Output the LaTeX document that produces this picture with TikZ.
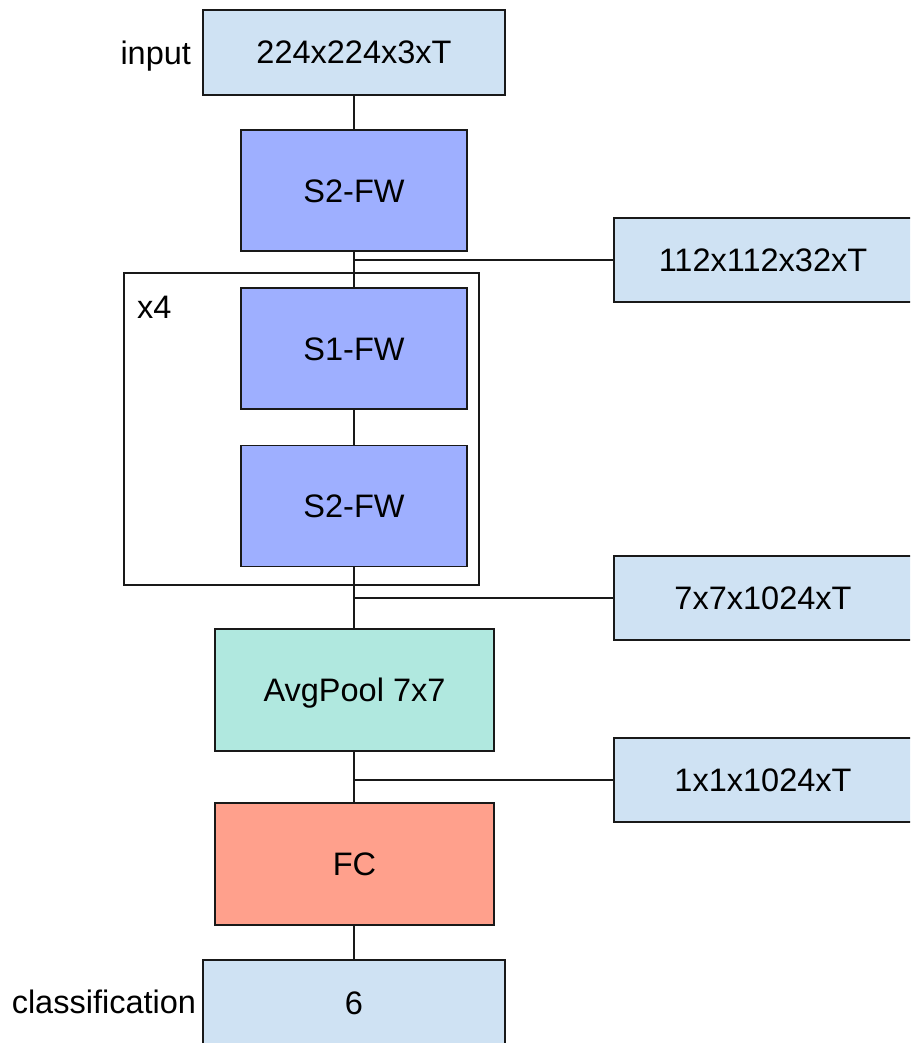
\documentclass[tikz,border=0pt]{standalone}
\usepackage{fontspec}
\setmainfont{Liberation Sans}
\definecolor{lblue}{HTML}{CFE2F3}
\definecolor{fwblue}{HTML}{9EAFFF}
\definecolor{pool}{HTML}{B0E8DF}
\definecolor{fc}{HTML}{FFA08C}
\begin{document}
\begin{tikzpicture}[x=1pt,y=-1pt,
  every node/.style={font=\fontsize{32.5}{38}\selectfont, inner sep=0pt, outer sep=0pt},
  box/.style={draw=black!90, line width=1.4pt, minimum width=#1, text height=23pt, text depth=0pt, yshift=-1.5pt},
  io/.style={box=302pt, fill=lblue, minimum height=85pt},
  sidebox/.style={box=298pt, fill=lblue, minimum height=84pt},
  fw/.style={box=226pt, fill=fwblue, minimum height=121pt},
  wide/.style={box=279pt, minimum height=122pt},
  conn/.style={draw=black!90, line width=1.3pt}]
\useasboundingbox (0,0) rectangle (910,1043);
\clip (0,0) rectangle (910,1043);
% frame
\node[draw=black!90, line width=1.3pt, minimum width=355pt, minimum height=312pt] (frame) at (301.5,429) {};
\node[anchor=base west] (rep) at (137,318) {x4};
% main column
\node[io, yshift=1.5pt] (in) at (354,52.5) {224x224x3xT};
\node[anchor=base east] (inlab) at (191,65) {input};
\node[fw, yshift=1.5pt] (s2a) at (354,190.5) {S2-FW};
\node[fw, yshift=1.5pt] (s1) at (354,348.5) {S1-FW};
\node[fw, yshift=1.5pt] (s2b) at (354,506) {S2-FW};
\node[wide, fill=pool, yshift=1.5pt] (avg) at (354.5,690) {AvgPool 7x7};
\node[wide, fill=fc, yshift=1.5pt] (fcn) at (354.5,864) {FC};
\node[io, yshift=1.5pt] (out) at (354,1002.5) {6};
\node[anchor=base east] (outlab) at (196,1013) {classification};
% side outputs
\node[sidebox, yshift=1.5pt] (o1) at (763,260) {112x112x32xT};
\node[sidebox, yshift=1.5pt] (o2) at (763,598) {7x7x1024xT};
\node[sidebox, yshift=1.5pt] (o3) at (763,780) {1x1x1024xT};
% connectors
\draw[conn] (in.south) -- (s2a.north);
\draw[conn] (s2a.south) -- (s1.north);
\draw[conn] (s1.south) -- (s2b.north);
\draw[conn] (s2b.south) -- (s2b.south |- avg.north);
\draw[conn] (avg.south -| s2b.south) -- (fcn.north -| s2b.south);
\draw[conn] (fcn.south -| out.north) -- (out.north);
\draw[conn] (o1.west) -- (o1.west -| s2a.south);
\draw[conn] (o2.west) -- (o2.west -| s2b.south);
\draw[conn] (o3.west) -- (o3.west -| s2b.south);
\end{tikzpicture}
\end{document}
